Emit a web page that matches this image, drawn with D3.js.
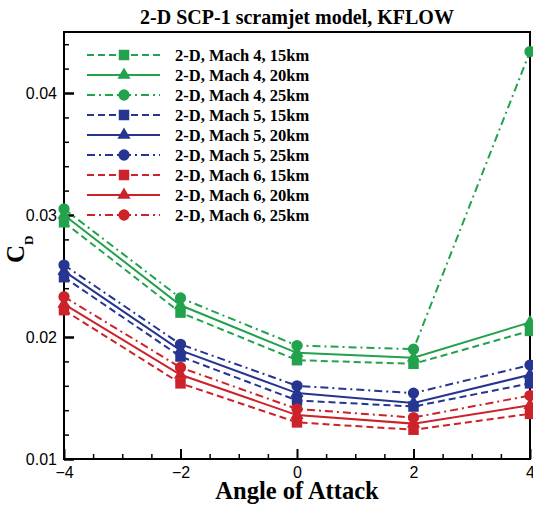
<!DOCTYPE html>
<html><head><meta charset="utf-8">
<script src="https://cdn.jsdelivr.net/npm/d3@7"></script>
<style>body{margin:0;background:#fff;}svg{display:block;}</style>
</head><body>
<svg id="chart" width="533" height="505"></svg>
<script>
const aoa = [-4, -2, 0, 2, 4];
const xTicks = [-4, -2, 0, 2, 4];
const yTicks = [0.01, 0.02, 0.03, 0.04];
const seriesNames = [
  "2-D, Mach 4, 15km", "2-D, Mach 4, 20km", "2-D, Mach 4, 25km",
  "2-D, Mach 5, 15km", "2-D, Mach 5, 20km", "2-D, Mach 5, 25km",
  "2-D, Mach 6, 15km", "2-D, Mach 6, 20km", "2-D, Mach 6, 25km"
];
const m4_15 = [0.0294, 0.0220, 0.0181, 0.0178, 0.0205];
const m4_20 = [0.0300, 0.0226, 0.0187, 0.0183, 0.0212];
const m4_25 = [0.0305, 0.0232, 0.0193, 0.0190, 0.0434];
const m5_15 = [0.0249, 0.0184, 0.0148, 0.0143, 0.0162];
const m5_20 = [0.0254, 0.0189, 0.0154, 0.0146, 0.0169];
const m5_25 = [0.0259, 0.0194, 0.0160, 0.0154, 0.0177];
const m6_15 = [0.0222, 0.0162, 0.0130, 0.0124, 0.0137];
const m6_20 = [0.0227, 0.0169, 0.0136, 0.0129, 0.0144];
const m6_25 = [0.0233, 0.0175, 0.0141, 0.0134, 0.0152];
const seriesValues = [m4_15, m4_20, m4_25, m5_15, m5_20, m5_25, m6_15, m6_20, m6_25];

const colors = ["#22a24c", "#26358f", "#cc2229"];
const dashes = ["7,4", null, "8,4,2,4"];
const symbols = [d3.symbolSquare, d3.symbolTriangle, d3.symbolCircle];
const symSizes = [110, 75, 100];

const svg = d3.select("#chart");
const L = 64, R = 530, T = 32, B = 459;
const x = d3.scaleLinear().domain([-4, 4]).range([L, R]);
const y = d3.scaleLinear().domain([0.01, 0.045]).range([B, T]);

// title
svg.append("text").attr("x", (L + R) / 2).attr("y", 24).attr("text-anchor", "middle")
  .attr("font-family", "Liberation Serif, Times New Roman, serif").attr("font-weight", "bold")
  .attr("font-size", 20).text("2-D SCP-1 scramjet model, KFLOW");

// axes
const xAxis = svg.append("g").attr("transform", `translate(0,${B})`)
  .call(d3.axisBottom(x).tickValues(xTicks).tickSize(-10).tickFormat(d3.format("d")));
const xMinor = svg.append("g").attr("transform", `translate(0,${B})`)
  .call(d3.axisBottom(x).tickValues(d3.range(-4, 4.01, 0.5).filter(v => v % 2 !== 0)).tickSize(-5).tickFormat(""));
const yAxis = svg.append("g").attr("transform", `translate(${L},0)`)
  .call(d3.axisLeft(y).tickValues(yTicks).tickSize(-10).tickFormat(d3.format(".2f")));
const yMinor = svg.append("g").attr("transform", `translate(${L},0)`)
  .call(d3.axisLeft(y).tickValues(d3.range(0.012, 0.0451, 0.002).filter(v => Math.abs(v * 100 - Math.round(v * 100)) > 1e-6)).tickSize(-5).tickFormat(""));
[xAxis, xMinor, yAxis, yMinor].forEach(g => {
  g.select(".domain").remove();
  g.selectAll(".tick line").attr("stroke", "#000").attr("stroke-width", 1.5);
});
xAxis.selectAll(".tick line").attr("stroke-width", 2);
yAxis.selectAll(".tick line").attr("stroke-width", 2.5);
xAxis.selectAll("text").attr("y", 19).attr("dy", 0)
  .attr("font-family", "Liberation Sans, Arial, sans-serif").attr("font-size", 16).attr("fill", "#000");
yAxis.selectAll("text").attr("x", -7).attr("dy", "0.36em")
  .attr("font-family", "Liberation Sans, Arial, sans-serif").attr("font-size", 16).attr("fill", "#000");

// frame
svg.append("rect").attr("x", L).attr("y", T).attr("width", R - L).attr("height", B - T)
  .attr("fill", "none").attr("stroke", "#000").attr("stroke-width", 2);

// axis titles
svg.append("text").attr("x", (L + R) / 2).attr("y", 499).attr("text-anchor", "middle")
  .attr("font-family", "Liberation Serif, Times New Roman, serif").attr("font-weight", "bold")
  .attr("font-size", 24.5).text("Angle of Attack");
const yl = svg.append("text").attr("transform", "translate(24,263) rotate(-90)").attr("text-anchor", "start")
  .attr("font-family", "Liberation Serif, Times New Roman, serif").attr("font-weight", "bold")
  .attr("font-size", 25);
yl.append("tspan").text("C");
yl.append("tspan").attr("font-size", 13).attr("dy", 9).text("D");

// lines
const line = d3.line().x((d, i) => x(aoa[i])).y(d => y(d));
seriesValues.forEach((vals, k) => {
  const c = colors[Math.floor(k / 3)], dsh = dashes[k % 3];
  svg.append("path").datum(vals).attr("d", line).attr("fill", "none")
    .attr("stroke", c).attr("stroke-width", 2).attr("stroke-dasharray", dsh);
});
seriesValues.forEach((vals, k) => {
  const c = colors[Math.floor(k / 3)];
  const sym = d3.symbol().type(symbols[k % 3]).size(symSizes[k % 3]);
  svg.append("g").selectAll("path").data(vals).join("path")
    .attr("transform", (d, i) => `translate(${x(aoa[i])},${y(d)})`)
    .attr("d", sym).attr("fill", c);
});

// legend
const lg = svg.append("g");
seriesNames.forEach((name, k) => {
  const c = colors[Math.floor(k / 3)], dsh = dashes[k % 3];
  const ry = 55 + 20 * k;
  lg.append("line").attr("x1", 87).attr("x2", 160).attr("y1", ry).attr("y2", ry)
    .attr("stroke", c).attr("stroke-width", 2).attr("stroke-dasharray", dsh);
  lg.append("path").attr("transform", `translate(124,${ry})`)
    .attr("d", d3.symbol().type(symbols[k % 3]).size(symSizes[k % 3])).attr("fill", c);
  lg.append("text").attr("x", 175).attr("y", ry + 6)
    .attr("font-family", "Liberation Serif, Times New Roman, serif").attr("font-weight", "bold")
    .attr("font-size", 16.5).text(name);
});
</script>
</body></html>
